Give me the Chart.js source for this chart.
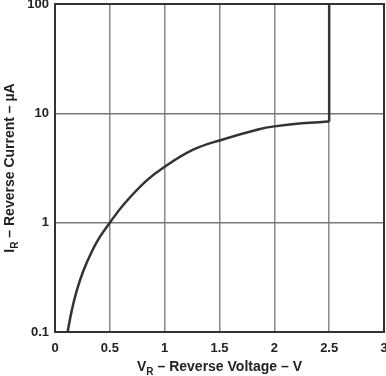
<!DOCTYPE html>
<html>
<head>
<meta charset="utf-8">
<script src="https://cdn.jsdelivr.net/npm/chart.js@4/dist/chart.umd.min.js"></script>
<style>
  html, body { margin: 0; padding: 0; background: #fff; }
  #wrap { width: 386px; height: 376px; }
</style>
</head>
<body>
<div id="wrap"><canvas id="irCanvas"></canvas></div>
<script>
// reverse current vs reverse voltage
const voltage = [0.115, 0.152, 0.197, 0.257, 0.334, 0.409, 0.5, 0.63, 0.834, 1.0, 1.26, 1.5, 1.86, 2.0, 2.25, 2.5];
const current = [0.1, 0.156, 0.237, 0.36, 0.54, 0.74, 1.0, 1.48, 2.42, 3.25, 4.65, 5.65, 7.15, 7.6, 8.1, 8.4];
const breakdownV = 2.5;
const breakdownTop = 100;

const yTicks = [0.1, 1, 10, 100];
const xTicks = [0, 0.5, 1, 1.5, 2, 2.5, 3];

const ink = "#333";
const fontFam = "'Liberation Sans', Arial, sans-serif";

const curvePts = voltage.map((v, i) => ({ x: v, y: current[i] }));
const kneePts = [
    { x: breakdownV, y: current[current.length - 1] },
    { x: breakdownV, y: breakdownTop }
];

// no extra room for the end labels, the plot goes right to the edge
function noPad(s) {
    s.paddingTop = 0;
    s.paddingBottom = 0;
    s.paddingLeft = 0;
    s.paddingRight = 0;
}

// titles with subscript + frame round the plot
const extras = {
    id: "extras",
    afterDraw(chart) {
        const ctx = chart.ctx;
        const a = chart.chartArea;
        ctx.save();
        ctx.strokeStyle = ink;
        ctx.lineWidth = 2;
        ctx.strokeRect(a.left, a.top, a.right - a.left, a.bottom - a.top);

        function subTitle(main, sub, rest, cx, cy, rot) {
            ctx.save();
            ctx.translate(cx, cy);
            ctx.rotate(rot);
            ctx.fillStyle = "#222";
            ctx.textBaseline = "alphabetic";
            const big = "bold 14px " + fontFam;
            const small = "bold 10px " + fontFam;
            ctx.font = big;
            const w1 = ctx.measureText(main).width;
            const w3 = ctx.measureText(rest).width;
            ctx.font = small;
            const w2 = ctx.measureText(sub).width;
            let x = -(w1 + w2 + w3) / 2;
            ctx.font = big;
            ctx.fillText(main, x, 0);
            x += w1;
            ctx.font = small;
            ctx.fillText(sub, x, 4);
            x += w2;
            ctx.font = big;
            ctx.fillText(rest, x, 0);
            ctx.restore();
        }
        subTitle("V", "R", " \u2013 Reverse Voltage \u2013 V", (a.left + a.right) / 2, 371, 0);
        subTitle("I", "R", " \u2013 Reverse Current \u2013 \u00b5A", 14, (a.top + a.bottom) / 2, -Math.PI / 2);
        ctx.restore();
    }
};

new Chart(document.getElementById("irCanvas"), {
    type: "line",
    data: {
        datasets: [
            {
                data: curvePts,
                borderColor: ink,
                borderWidth: 2.5,
                pointRadius: 0,
                tension: 0.4,
                fill: false
            },
            {
                data: kneePts,
                borderColor: ink,
                borderWidth: 2.5,
                pointRadius: 0,
                tension: 0,
                fill: false
            }
        ]
    },
    options: {
        responsive: true,
        maintainAspectRatio: false,
        animation: false,
        events: [],
        layout: { padding: { top: 4, right: 2, left: 0, bottom: 0 } },
        plugins: {
            legend: { display: false },
            tooltip: { enabled: false }
        },
        scales: {
            x: {
                type: "linear",
                min: 0,
                max: 3,
                afterBuildTicks: (s) => { s.ticks = xTicks.map(v => ({ value: v })); },
                afterFit: (s) => { s.height = 44; noPad(s); },
                grid: { color: "#8a8a8a", lineWidth: 1.5, drawTicks: false },
                border: { display: false },
                ticks: {
                    padding: 9,
                    color: "#222",
                    font: { family: fontFam, size: 13, weight: "bold" },
                    maxRotation: 0,
                    callback: (v) => String(v)
                }
            },
            y: {
                type: "logarithmic",
                min: 0.1,
                max: 100,
                afterBuildTicks: (s) => { s.ticks = yTicks.map(v => ({ value: v })); },
                afterFit: (s) => { s.width = 55; noPad(s); },
                grid: { color: "#777", lineWidth: 1.5, drawTicks: false },
                border: { display: false },
                ticks: {
                    padding: 6,
                    color: "#222",
                    font: { family: fontFam, size: 13, weight: "bold" },
                    callback: (v) => String(v)
                }
            }
        }
    },
    plugins: [extras]
});
</script>
</body>
</html>
